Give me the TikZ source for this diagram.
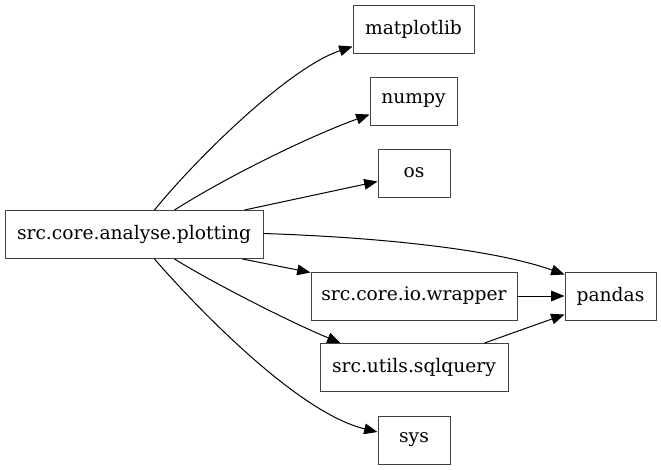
\documentclass[tikz,border=0pt]{standalone}
\usepackage{fontspec}
\setmainfont{DejaVu Serif}
\usetikzlibrary{arrows.meta}
\begin{document}
\begin{tikzpicture}[x=0.75pt,y=-0.75pt,
  box/.style={draw=black!75, line width=0.75pt, minimum height=36pt, inner sep=0pt, font=\fontsize{14}{16}\selectfont},
  edge/.style={line width=0.75pt, -{Triangle[length=10pt,width=8pt]}}]
\useasboundingbox (0,0) rectangle (661,469);
\node[box, minimum width=193.5pt] (plot) at (134,234.5) {src.core.analyse.plotting};
\node[box, minimum width=90.75pt] (mat) at (413.5,29) {matplotlib};
\node[box, minimum width=65.25pt] (numpy) at (413.5,101) {numpy};
\node[box, minimum width=54pt] (os) at (414,173) {os};
\node[box, minimum width=154.5pt] (wrap) at (414,296) {src.core.io.wrapper};
\node[box, minimum width=68.25pt] (pandas) at (610.5,296) {pandas};
\node[box, minimum width=141pt] (sql) at (414,367.5) {src.utils.sqlquery};
\node[box, minimum width=54pt] (sys) at (414,440) {sys};

\draw[edge] ([shift={(150,0)}]plot.north west) .. controls (195,160) and (288,68) .. ([shift={(0,-7)}]mat.south west);
\draw[edge] ([shift={(170,0)}]plot.north west) .. controls (225,178) and (305,138) .. ([shift={(0,-11)}]numpy.south west);
\draw[edge] ([shift={(240,0)}]plot.north west) -- ([shift={(0,-16)}]os.south west);
\draw[edge] ([shift={(0,-1)}]plot.east) .. controls (370,237) and (490,248) .. ([shift={(0,3)}]pandas.north west);
\draw[edge] ([shift={(238,0)}]plot.south west) -- ([shift={(0,1)}]wrap.north west);
\draw[edge] (wrap.east) -- (pandas.west);
\draw[edge] ([shift={(165,0)}]sql.north west) -- ([shift={(0,-6)}]pandas.south west);
\draw[edge] ([shift={(170,0)}]plot.south west) .. controls (215,284) and (290,322) .. ([shift={(21,0)}]sql.north west);
\draw[edge] ([shift={(150,0)}]plot.south west) .. controls (190,300) and (295,412) .. ([shift={(0,-8)}]sys.west);
\end{tikzpicture}
\end{document}
